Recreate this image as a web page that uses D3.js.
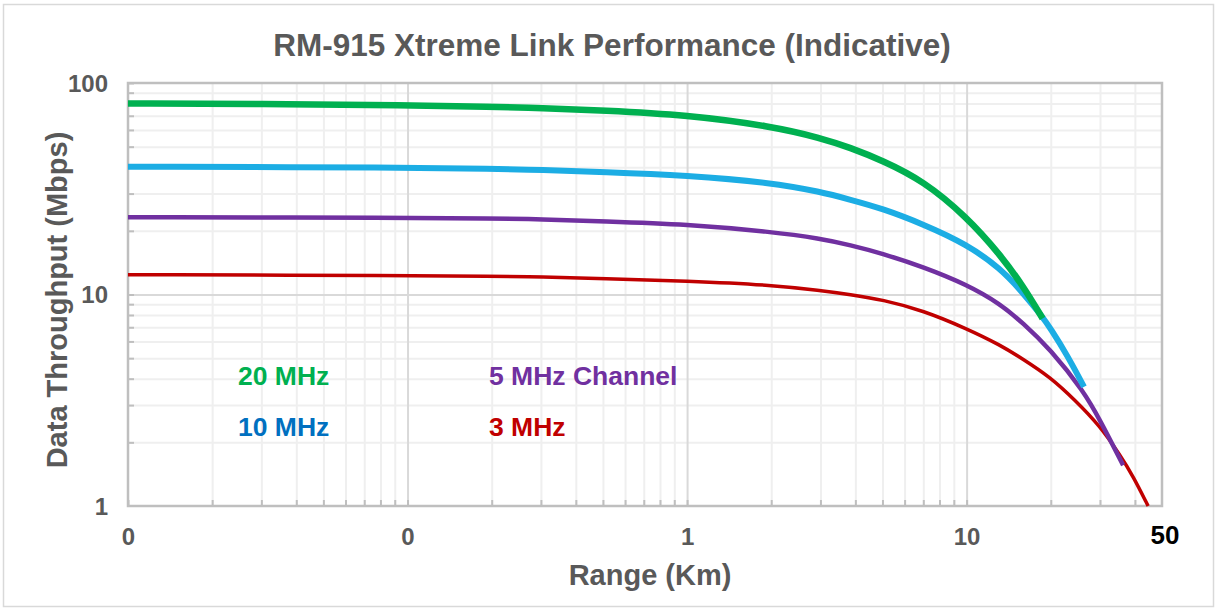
<!DOCTYPE html>
<html><head><meta charset="utf-8">
<script src="https://cdn.jsdelivr.net/npm/d3@7"></script>
<style>
html,body{margin:0;padding:0;background:#fff;}
svg{display:block;font-family:"Liberation Sans",Arial,sans-serif;}
</style></head>
<body>
<svg id="chart" width="1217" height="610"></svg>
<script>
// ---- data ----
const xTickValues = [0.01, 0.1, 1, 10];
const xTickLabels = ["0", "0", "1", "10"];
const xEndLabel = "50";
const yTickValues = [1, 10, 100];
const yTickLabels = ["1", "10", "100"];

const seriesNames = ["3 MHz", "5 MHz Channel", "10 MHz", "20 MHz"];

const km3   = [0.01, 0.1, 0.2, 0.3, 0.5, 1, 2, 3, 3.83, 5, 7, 10, 13.2, 15.9, 19.9, 24.4, 30, 35.4, 39.4, 44.6];
const mbps3 = [12.4, 12.3, 12.2, 12.1, 11.9, 11.6, 11.1, 10.45, 10.0, 9.45, 8.4, 6.9, 5.77, 4.95, 4.07, 3.17, 2.39, 1.74, 1.386, 1.0];

const km5   = [0.01, 0.1, 0.2, 0.3, 0.5, 1, 2, 3, 3.83, 5, 7, 10, 13.2, 15.9, 19.9, 26.3, 30, 36.3];
const mbps5 = [23.2, 23.1, 22.9, 22.7, 22.2, 21.5, 19.8, 18.4, 17.14, 15.63, 13.49, 11.15, 9.02, 7.33, 5.52, 3.47, 2.55, 1.56];

const km10   = [0.01, 0.1, 0.2, 0.3, 0.5, 1, 2, 3, 3.83, 5, 7, 10, 13.2, 15.9, 18.7, 19.9, 22.9, 26.3];
const mbps10 = [40.2, 39.9, 39.3, 38.8, 38.0, 36.6, 33.8, 30.6, 28.1, 25.5, 21.5, 17.3, 13.3, 10.2, 7.83, 6.94, 5.17, 3.66];

const km20   = [0.01, 0.03, 0.1, 0.2, 0.3, 0.5, 1, 2, 3, 3.83, 5, 7, 10, 13.2, 15.9, 18.7];
const mbps20 = [80, 79.6, 78.5, 77.3, 76.2, 74.3, 70.7, 62.5, 55, 49.5, 43, 34.5, 23.3, 15.4, 11.0, 7.7];

// ---- layout ----
const svg = d3.select("#chart");
const W = 1217, H = 610;
const plot = {left: 128, right: 1162, top: 83, bottom: 506};

const x = d3.scaleLog().domain([0.01, 50]).range([plot.left, plot.right]);
const y = d3.scaleLog().domain([1, 100]).range([plot.bottom, plot.top]);

// outer chart border
svg.append("rect").attr("x", 3.5).attr("y", 4.5).attr("width", W - 7).attr("height", H - 8)
  .attr("fill", "#fff").attr("stroke", "#D9D9D9").attr("stroke-width", 1.5);

// minor grid values
const xMinor = [], yMinor = [];
[0.01, 0.1, 1, 10].forEach(d => { for (let k = 2; k <= 9; k++) { const v = +(d * k).toPrecision(3); if (v < 50) xMinor.push(v); } });
[1, 10].forEach(d => { for (let k = 2; k <= 9; k++) yMinor.push(d * k); });

const g = svg.append("g");

// minor gridlines
g.append("g").attr("transform", `translate(0,${plot.bottom})`)
  .call(d3.axisBottom(x).tickValues(xMinor).tickSize(-(plot.bottom - plot.top)).tickFormat(""))
  .call(a => a.select(".domain").remove())
  .call(a => a.selectAll("line").attr("stroke", "#EFEFEF").attr("stroke-width", 2));
g.append("g").attr("transform", `translate(${plot.left},0)`)
  .call(d3.axisLeft(y).tickValues(yMinor).tickSize(-(plot.right - plot.left)).tickFormat(""))
  .call(a => a.select(".domain").remove())
  .call(a => a.selectAll("line").attr("stroke", "#EFEFEF").attr("stroke-width", 2));

// major gridlines
g.append("g").attr("transform", `translate(0,${plot.bottom})`)
  .call(d3.axisBottom(x).tickValues(xTickValues.slice(1)).tickSize(-(plot.bottom - plot.top)).tickFormat(""))
  .call(a => a.select(".domain").remove())
  .call(a => a.selectAll("line").attr("stroke", "#D9D9D9").attr("stroke-width", 2));
g.append("g").attr("transform", `translate(${plot.left},0)`)
  .call(d3.axisLeft(y).tickValues([10]).tickSize(-(plot.right - plot.left)).tickFormat(""))
  .call(a => a.select(".domain").remove())
  .call(a => a.selectAll("line").attr("stroke", "#D9D9D9").attr("stroke-width", 2));

// small inner tick marks
g.append("g").attr("transform", `translate(0,${plot.bottom})`)
  .call(d3.axisBottom(x).tickValues(xMinor.concat(xTickValues)).tickSize(-6).tickFormat(""))
  .call(a => a.select(".domain").remove())
  .call(a => a.selectAll("line").attr("stroke", "#BFBFBF").attr("stroke-width", 2));
g.append("g").attr("transform", `translate(${plot.left},0)`)
  .call(d3.axisLeft(y).tickValues(yMinor.concat([10, 100])).tickSize(-6).tickFormat(""))
  .call(a => a.select(".domain").remove())
  .call(a => a.selectAll("line").attr("stroke", "#BFBFBF").attr("stroke-width", 2));

// plot border
g.append("rect").attr("x", plot.left).attr("y", plot.top)
  .attr("width", plot.right - plot.left).attr("height", plot.bottom - plot.top)
  .attr("fill", "none").attr("stroke", "#BFBFBF").attr("stroke-width", 2.5);

// tick labels via axes
const xAxis = g.append("g").attr("transform", `translate(0,${plot.bottom})`)
  .call(d3.axisBottom(x).tickValues(xTickValues).tickSize(0).tickPadding(0)
    .tickFormat((d, i) => xTickLabels[i]));
xAxis.select(".domain").remove();
xAxis.selectAll("text").attr("y", 31).attr("dy", "0.35em")
  .attr("font-family", "Liberation Sans, Arial, sans-serif")
  .attr("font-size", 24).attr("font-weight", "bold").attr("fill", "#595959");

const yAxis = g.append("g").attr("transform", `translate(${plot.left},0)`)
  .call(d3.axisLeft(y).tickValues(yTickValues).tickSize(0).tickPadding(0)
    .tickFormat((d, i) => yTickLabels[i]));
yAxis.select(".domain").remove();
yAxis.selectAll("text").attr("x", -20).attr("dy", "0.35em")
  .attr("font-family", "Liberation Sans, Arial, sans-serif")
  .attr("font-size", 24).attr("font-weight", "bold").attr("fill", "#595959");

// "50" end label (black)
svg.append("text").attr("x", x(50) + 3).attr("y", plot.bottom + 29).attr("dy", "0.35em")
  .attr("text-anchor", "middle").attr("font-size", 26).attr("font-weight", "bold")
  .attr("fill", "#000").text(xEndLabel);

// series lines
const series = [
  {km: km3,  v: mbps3,  color: "#C00000", w: 3.5},
  {km: km5,  v: mbps5,  color: "#7030A0", w: 4.5},
  {km: km10, v: mbps10, color: "#1CADE4", w: 6},
  {km: km20, v: mbps20, color: "#00B050", w: 6.5}
];
const line = d3.line().x(d => x(d[0])).y(d => y(d[1])).curve(d3.curveBasis);
series.forEach(s => {
  g.append("path").datum(s.km.map((k, i) => [k, s.v[i]]))
    .attr("d", line).attr("fill", "none").attr("stroke", s.color)
    .attr("stroke-width", s.w).attr("stroke-linejoin", "round");
});

// in-plot labels
const labels = [
  {t: seriesNames[3], x: 238, y: 376, c: "#00B050"},
  {t: seriesNames[2], x: 238, y: 427, c: "#0070C0"},
  {t: seriesNames[1], x: 489, y: 376, c: "#7030A0"},
  {t: seriesNames[0], x: 489, y: 427, c: "#C00000"}
];
svg.selectAll("text.lbl").data(labels).enter().append("text").attr("class", "lbl")
  .attr("x", d => d.x).attr("y", d => d.y).attr("dy", "0.35em")
  .attr("font-size", 26.5).attr("font-weight", "bold").attr("fill", d => d.c)
  .text(d => d.t);

// title
svg.append("text").attr("x", 612).attr("y", 45).attr("dy", "0.35em")
  .attr("text-anchor", "middle").attr("font-size", 31.5).attr("font-weight", "bold")
  .attr("fill", "#595959").text("RM-915 Xtreme Link Performance (Indicative)");

// axis titles
svg.append("text").attr("x", 650).attr("y", 575).attr("dy", "0.35em")
  .attr("text-anchor", "middle").attr("font-size", 29).attr("font-weight", "bold")
  .attr("fill", "#595959").text("Range (Km)");
svg.append("text").attr("transform", "translate(57,300) rotate(-90)").attr("dy", "0.35em")
  .attr("text-anchor", "middle").attr("font-size", 29).attr("font-weight", "bold")
  .attr("fill", "#595959").text("Data Throughput (Mbps)");
</script>
</body></html>
